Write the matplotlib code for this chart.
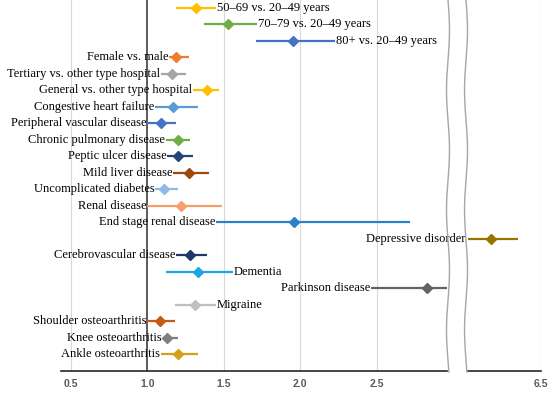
import numpy as np
import matplotlib
matplotlib.use("Agg")
import matplotlib.pyplot as plt
from matplotlib.lines import Line2D

labels = ["50–69 vs. 20–49 years", "70–79 vs. 20–49 years", "80+ vs. 20–49 years",
          "Female vs. male", "Tertiary vs. other type hospital", "General vs. other type hospital",
          "Congestive heart failure", "Peripheral vascular disease", "Chronic pulmonary disease",
          "Peptic ulcer disease", "Mild liver disease", "Uncomplicated diabetes",
          "Renal disease", "End stage renal disease", "Depressive disorder",
          "Cerebrovascular disease", "Dementia", "Parkinson disease", "Migraine",
          "Shoulder osteoarthritis", "Knee osteoarthritis", "Ankle osteoarthritis"]
odds = [1.32, 1.53, 1.95, 1.19, 1.16, 1.39, 1.17, 1.09, 1.20, 1.20, 1.27, 1.11,
        1.22, 1.96, 6.18, 1.28, 1.33, 2.83, 1.31, 1.08, 1.13, 1.20]
lower = [1.19, 1.37, 1.71, 1.14, 1.09, 1.30, 1.05, 1.00, 1.12, 1.13, 1.17, 1.05,
         1.00, 1.45, 6.02, 1.19, 1.12, 2.46, 1.18, 1.00, 1.10, 1.09]
upper = [1.45, 1.72, 2.23, 1.27, 1.25, 1.47, 1.33, 1.19, 1.28, 1.30, 1.40, 1.20,
         1.49, 2.72, 6.35, 1.39, 1.56, 2.96, 1.45, 1.18, 1.20, 1.33]
label_right = ["50–69 vs. 20–49 years", "70–79 vs. 20–49 years", "80+ vs. 20–49 years",
               "Dementia", "Migraine"]
colors = ["#FFC000", "#70AD47", "#4472C4", "#ED7D31", "#A5A5A5", "#FFC000",
          "#5B9BD5", "#4472C4", "#70AD47", "#264478", "#9E480E", "#8FBCE6",
          "#F4A06C", "#2E7FC9", "#997300", "#203864", "#1EA5E6", "#636363",
          "#BFBFBF", "#C55A11", "#7F7F7F", "#D4A017"]

fig = plt.figure(figsize=(5.5, 3.93), dpi=100)
ax1 = fig.add_axes([61/550, 22/393, (447-61)/550, 371/393])
ax2 = fig.add_axes([468/550, 22/393, (541-468)/550, 371/393])

for ax in (ax1, ax2):
    ax.set_ylim(22.03, -0.485)
    ax.set_yticks([])
    for s in ["top", "right", "left"]:
        ax.spines[s].set_visible(False)
    ax.spines["bottom"].set_color("#262626")
    ax.spines["bottom"].set_linewidth(1.2)
    ax.tick_params(axis="x", length=0, pad=6)

ax1.set_xlim(0.435, 2.96)
ax2.set_xlim(6.03, 6.5)
ax1.set_xticks([0.5, 1.0, 1.5, 2.0, 2.5])
ax1.set_xticklabels(["0.5", "1.0", "1.5", "2.0", "2.5"])
ax2.set_xticks([6.5])
ax2.set_xticklabels(["6.5"])
for ax in (ax1, ax2):
    for t in ax.get_xticklabels():
        t.set_fontfamily("Liberation Sans")
        t.set_fontweight("bold")
        t.set_fontsize(7.5)
        t.set_color("#595959")
    for xv in ax.get_xticks():
        if xv != 1.0:
            ax.axvline(xv, color="#D9D9D9", lw=0.8, zorder=0)
ax1.axvline(1.0, color="#404040", lw=1.2, zorder=1)

for i, name in enumerate(labels):
    ax = ax2 if odds[i] > 3 else ax1
    ax.plot([lower[i], upper[i]], [i, i], color=colors[i], lw=1.6, zorder=3,
            solid_capstyle="butt")
    ax.plot(odds[i], i, marker="D", ms=4.8, color=colors[i], zorder=4)
    if name in label_right:
        ax.text(upper[i] + 0.005, i, name, ha="left", va="center",
                family="Liberation Serif", fontsize=9, clip_on=False)
    else:
        ax.text(lower[i] - 0.005, i, name, ha="right", va="center",
                family="Liberation Serif", fontsize=9, clip_on=False, zorder=5)

# wavy break lines
yy = np.linspace(0, 372, 200)
for x0 in (448, 466):
    xx = x0 + 1.5 * np.sin(yy / 60 * np.pi)
    fig.add_artist(Line2D(xx / 550, 1 - yy / 393, color="#A6A6A6", lw=1.0))

fig.savefig("out.png", dpi=100)
